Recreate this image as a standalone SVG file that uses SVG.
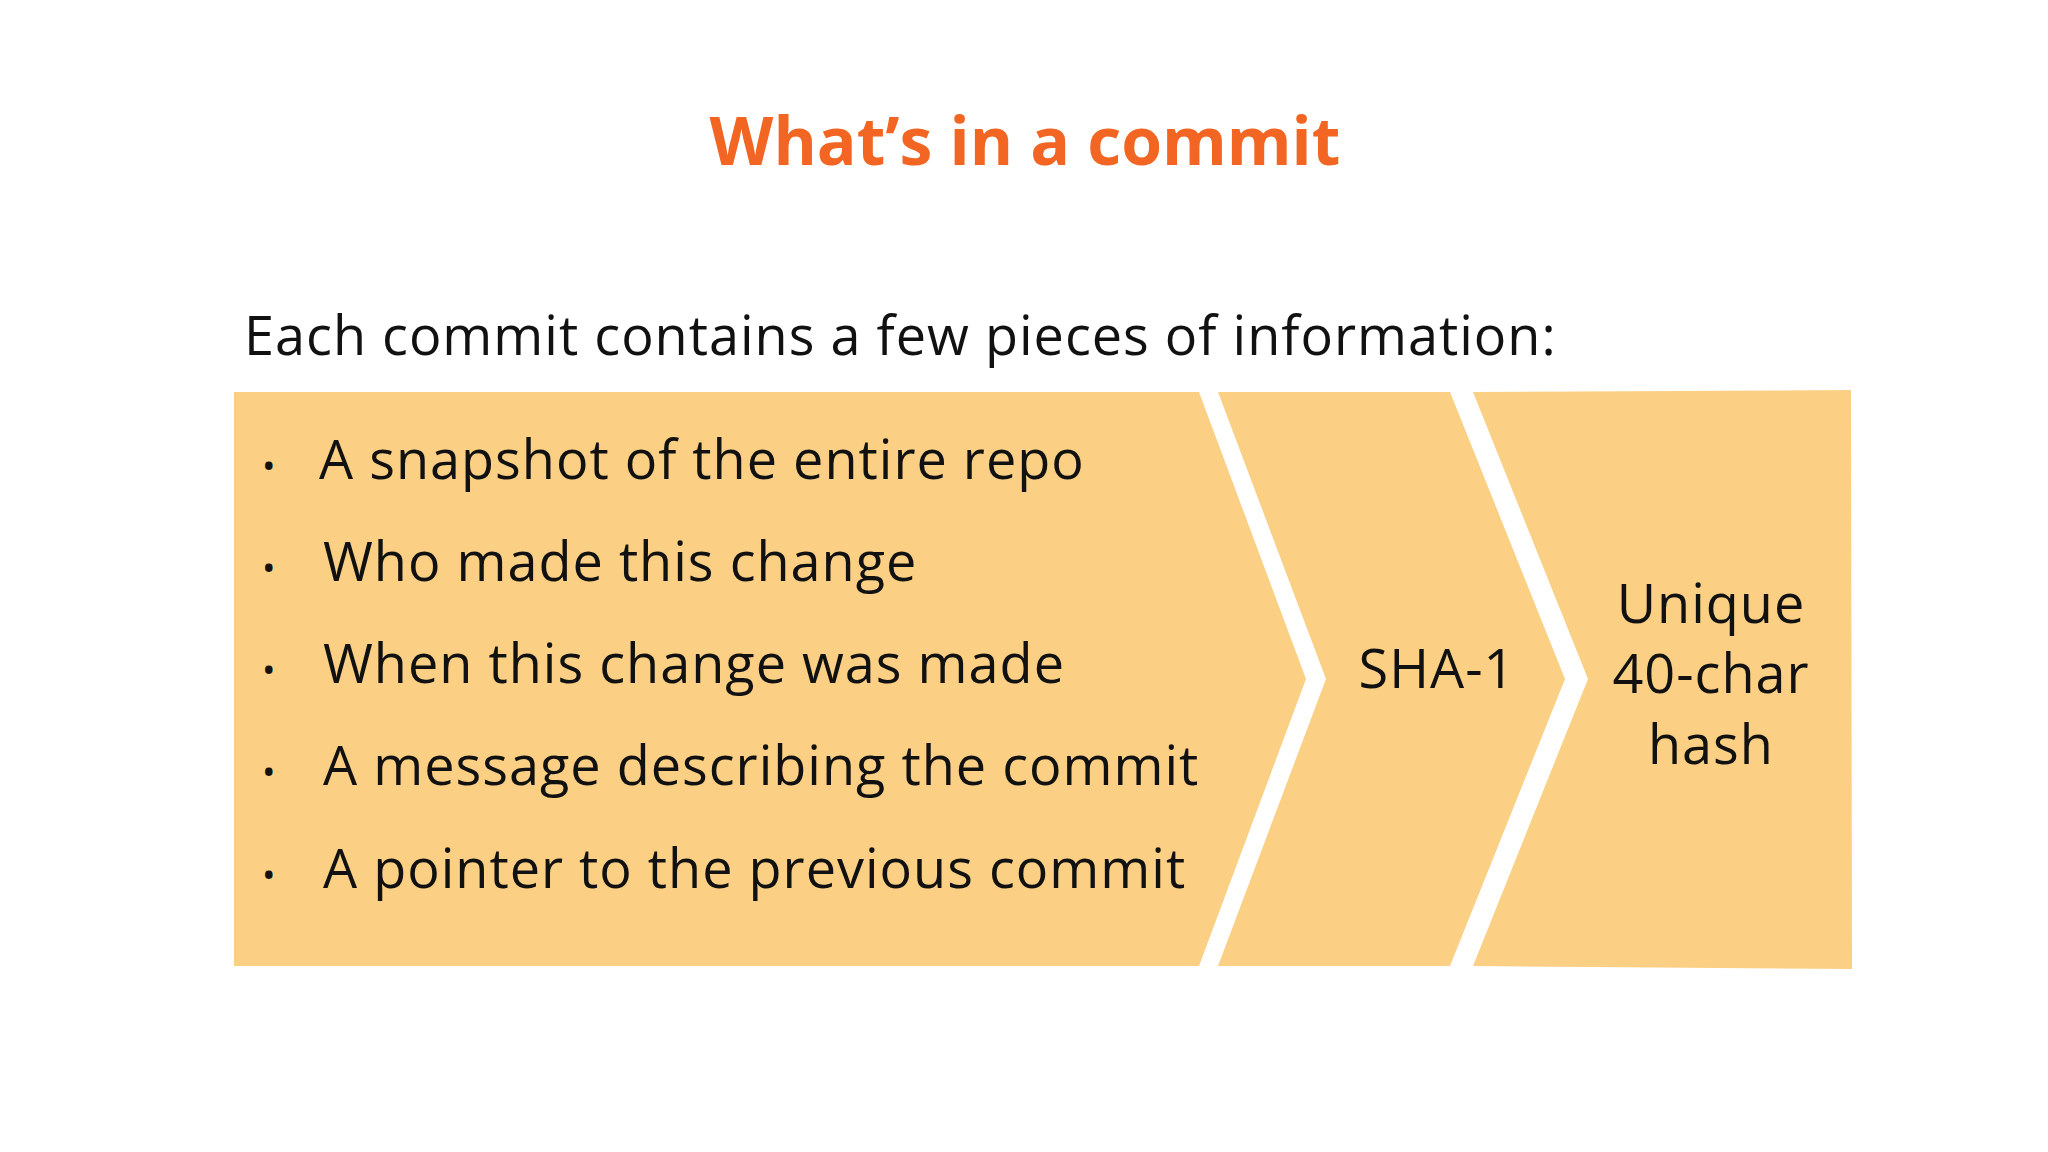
<svg xmlns="http://www.w3.org/2000/svg" width="2048" height="1152" viewBox="0 0 2048 1152">
<style>
.s{fill:#FBD084}
.t{font-family:"Open Sans","Liberation Sans",sans-serif;font-size:54px;letter-spacing:1px;fill:#111}
.b{font-size:36px}
.c{text-anchor:middle}
</style>
<rect width="2048" height="1152" fill="#fff"/>
<text x="1025" y="165" class="c" style="font-family:'Open Sans','Liberation Sans',sans-serif;font-weight:bold;font-size:66px;fill:#F26522">What’s in a commit</text>
<text x="244" y="355" class="t">Each commit contains a few pieces of information:</text>
<g id="info">
<polygon class="s" points="234,392 1199,392 1306,679 1199,966 234,966"/>
<g class="t">
<text x="262" y="479" class="b">•</text><text x="319" y="479">A snapshot of the entire repo</text>
<text x="262" y="581" class="b">•</text><text x="323" y="581">Who made this change</text>
<text x="262" y="683" class="b">•</text><text x="323" y="683">When this change was made</text>
<text x="262" y="785" class="b">•</text><text x="323" y="785">A message describing the commit</text>
<text x="262" y="888" class="b">•</text><text x="323" y="888">A pointer to the previous commit</text>
</g>
</g>
<g id="sha">
<polygon class="s" points="1218,392 1450,392 1565,679 1450,966 1218,966 1326,679"/>
<text x="1437" y="688" class="t c">SHA-1</text>
</g>
<g id="hash">
<polygon class="s" points="1473,392 1851,390 1852,969 1473,966 1588,679"/>
<text class="t c"><tspan x="1711" y="623">Unique</tspan><tspan x="1711" y="693">40-char</tspan><tspan x="1711" y="764">hash</tspan></text>
</g>
<g id="connectors"/>
</svg>
